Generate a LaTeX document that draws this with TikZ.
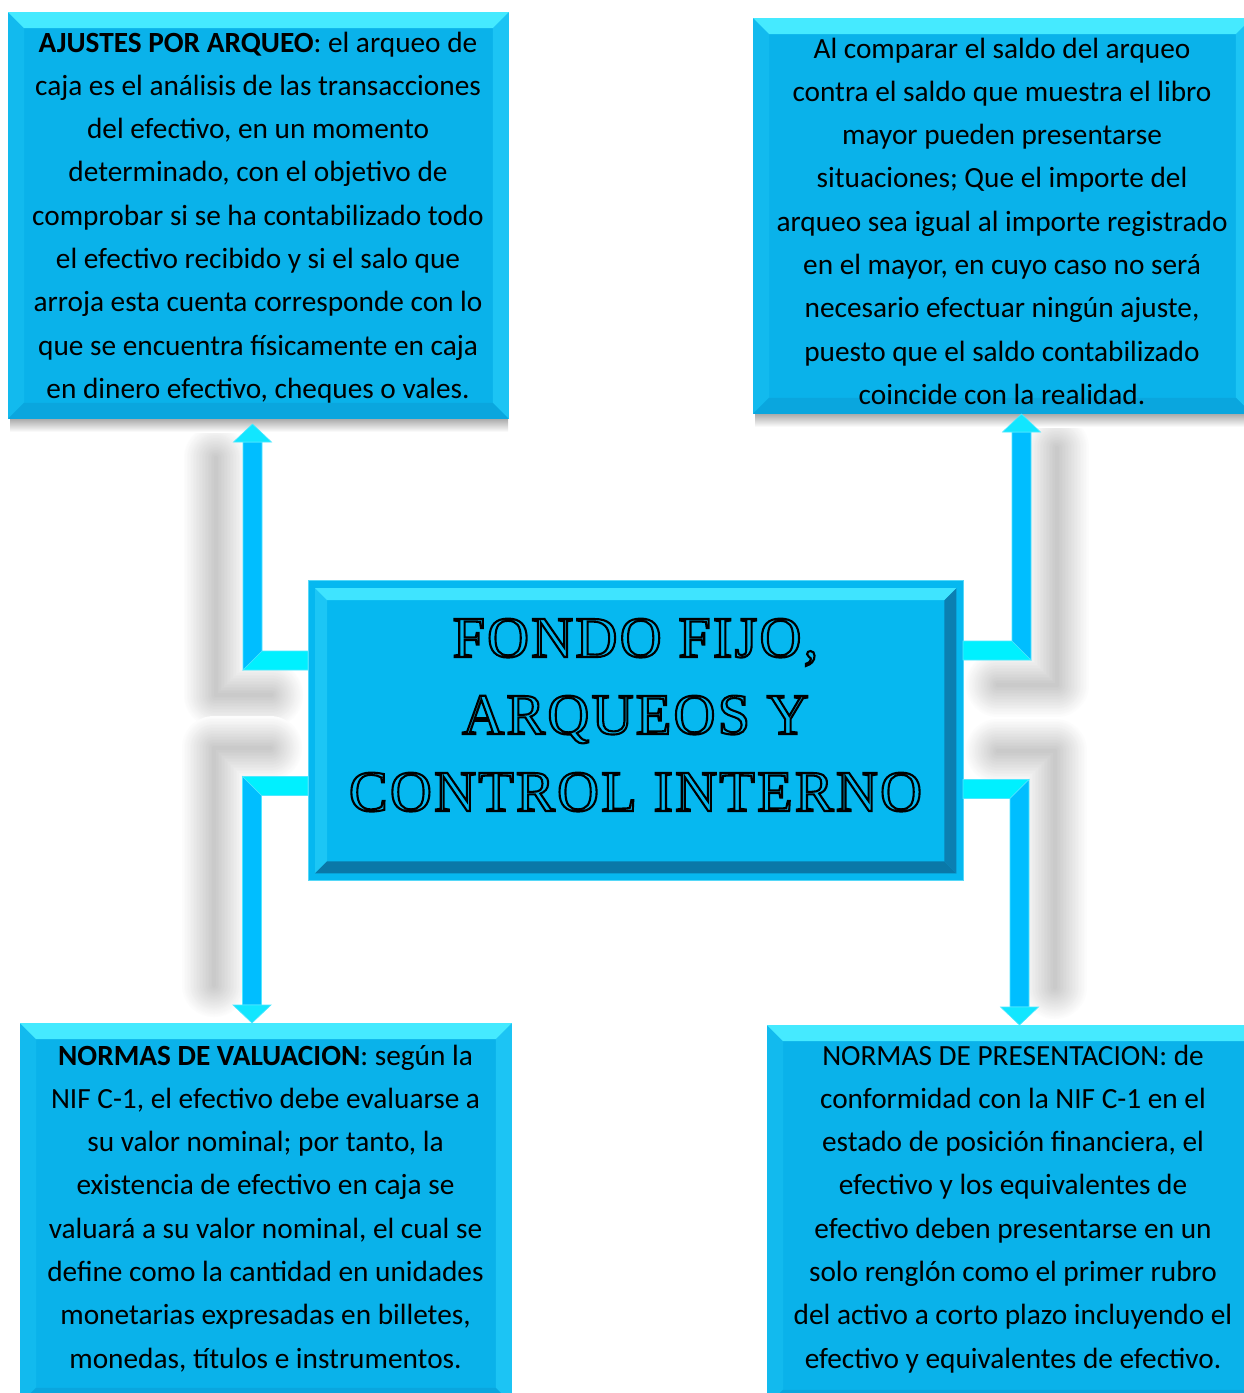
\documentclass[tikz,border=0pt]{standalone}
\usepackage{fontspec}
\setmainfont{Carlito}
\newfontfamily\titlefont[LetterSpace=4]{Liberation Serif}
\usetikzlibrary{calc}
\definecolor{face}{HTML}{0AB2EA}
\definecolor{bvtop}{HTML}{45EAFF}
\definecolor{bvleft}{HTML}{12BAEE}
\definecolor{bvright}{HTML}{1CC4F4}
\definecolor{bvbot}{HTML}{0AA6DE}
\definecolor{edgec}{HTML}{55D8F8}
\definecolor{cface}{HTML}{06B8F0}
\definecolor{cbvtop}{HTML}{3FE4FF}
\definecolor{cbvleft}{HTML}{1CC6F5}
\definecolor{cbvright}{HTML}{0B7FB2}
\definecolor{cbvbot}{HTML}{0A78A8}
\definecolor{vband}{HTML}{00BEFF}
\definecolor{hband}{HTML}{00F0FF}
\definecolor{ahead}{HTML}{12E6FF}
\definecolor{aedge}{HTML}{4FE8FF}
\newcommand{\boxlines}[1]{\begin{tabular}[t]{@{}c@{}}#1\end{tabular}}
\newcommand{\hollow}[1]{\special{pdf:literal direct 1 Tr 2.1 w}#1\special{pdf:literal direct 0 Tr}}
\newcommand{\bevel}[6]{%
  \fill[#4] (#1.north west) -- (#1.south west) -- ([shift={(#2,#2)}]#1.south west) -- ([shift={(#2,-#2)}]#1.north west) -- cycle;
  \fill[#5] (#1.north east) -- (#1.south east) -- ([shift={(-#2,#2)}]#1.south east) -- ([shift={(-#2,-#2)}]#1.north east) -- cycle;
  \fill[#6] (#1.south west) -- (#1.south east) -- ([shift={(-#2,#2)}]#1.south east) -- ([shift={(#2,#2)}]#1.south west) -- cycle;
  \fill[#3] (#1.north west) -- (#1.north east) -- ([shift={(-#2,-#2)}]#1.north east) -- ([shift={(#2,-#2)}]#1.north west) -- cycle;
}
% soft shadow of an elbow connector: #1 start, #2 tip, #3 dx, #4 dy
\newcommand{\elbowshadow}[4]{%
  \foreach \lw [evaluate=\lw as \shd using {22*(1-\lw/67)}] in {64,61,...,4}{%
    \draw[black!\shd, line width=\lw pt, line cap=round, line join=round]
      let \p1=(#1), \p2=(#2) in
      ({\x1+(#3)},{\y1+(#4)}) -- ({\x2+(#3)},{\y1+(#4)}) -- ({\x2+(#3)},{\y2+(#4)});
  }%
}
% #1 start, #2 tip, #3 sx, #4 vy
\newcommand{\elbowbody}[4]{%
  \filldraw[fill=hband, draw=aedge, line width=0.6pt] let \p1=(#1), \p2=(#2) in
   (\x1,{\y1-(#4)*9.5pt}) -- ({\x2+(#3)*9.5pt},{\y1-(#4)*9.5pt})
   -- ({\x2-(#3)*9.5pt},{\y1+(#4)*9.5pt}) -- (\x1,{\y1+(#4)*9.5pt}) -- cycle;
  \filldraw[fill=vband, draw=aedge, line width=0.6pt] let \p1=(#1), \p2=(#2) in
   ({\x2+(#3)*9.5pt},{\y1-(#4)*9.5pt}) -- ({\x2-(#3)*9.5pt},{\y1+(#4)*9.5pt})
   -- ({\x2-(#3)*9.5pt},{\y2-(#4)*18pt}) -- ({\x2+(#3)*9.5pt},{\y2-(#4)*18pt}) -- cycle;
  \filldraw[fill=ahead, draw=aedge, line width=0.6pt] let \p1=(#1), \p2=(#2) in
   ({\x2-19pt},{\y2-(#4)*18pt}) -- ({\x2+19pt},{\y2-(#4)*18pt}) -- (\x2,\y2) -- cycle;
}
\tikzset{
  box/.style={rectangle, draw=edgec, line width=0.8pt, fill=face, inner sep=0pt},
  txt/.style={inner sep=0pt, anchor=base, font=\fontsize{29.3}{43.3}\selectfont},
  ttl/.style={inner sep=0pt, anchor=base, font=\titlefont\fontsize{58}{77}\selectfont}
}
\begin{document}
\begin{tikzpicture}[x=1pt,y=-1pt]
\useasboundingbox (0,0) rectangle (1244,1393);
\fill[white] (0,0) rectangle (1244,1393);

% connector coordinates
\coordinate (s1) at (308,660.5);
\coordinate (t1) at (252.5,424);
\coordinate (s2) at (963,650.5);
\coordinate (t2) at (1021.5,414);
\coordinate (s3) at (308,786);
\coordinate (t3) at (252,1023);
\coordinate (s4) at (963,789);
\coordinate (t4) at (1019.5,1025);

% arrow shadows
\elbowshadow{s1}{t1}{-37pt}{-34pt}
\elbowshadow{s2}{t2}{35pt}{-34pt}
\elbowshadow{s3}{t3}{-38pt}{38pt}
\elbowshadow{s4}{t4}{35pt}{38pt}

% box shadows under the upper boxes
\shade[top color=black!35, bottom color=white] (10,418) rectangle (508,432);
\shade[top color=black!35, bottom color=white] (755,413) rectangle (1244,427);

% boxes
\node[box, minimum width=500pt, minimum height=406pt, anchor=north west] (tl) at (8,12) {};
\node[box, minimum width=498pt, minimum height=395pt, anchor=north west] (tr) at (753,18) {};
\node[box, minimum width=491pt, minimum height=380pt, anchor=north west] (bl) at (20,1023) {};
\node[box, minimum width=493pt, minimum height=380pt, anchor=north west] (br) at (767,1025) {};
\bevel{tl}{16pt}{bvtop}{bvleft}{bvright}{bvbot}
\bevel{tr}{16pt}{bvtop}{bvleft}{bvright}{bvbot}
\bevel{bl}{16pt}{bvtop}{bvleft}{bvright}{bvbot}
\bevel{br}{16pt}{bvtop}{bvleft}{bvright}{bvbot}

% centre box
\node[box, fill=cface, minimum width=655pt, minimum height=300pt, anchor=north west] (c) at (308,580) {};
\node[rectangle, inner sep=0pt, fill=cface, minimum width=641pt, minimum height=285pt, anchor=north west] (ci) at (315,588) {};
\bevel{ci}{12pt}{cbvtop}{cbvleft}{cbvright}{cbvbot}

% connectors
\elbowbody{s1}{t1}{-1}{1}
\elbowbody{s2}{t2}{1}{1}
\elbowbody{s3}{t3}{-1}{-1}
\elbowbody{s4}{t4}{1}{-1}

% texts
\node[txt] (tlt) at (258,52) {\boxlines{\textbf{AJUSTES POR ARQUEO}: el arqueo de\\
caja es el análisis de las transacciones\\
del efectivo, en un momento\\
determinado, con el objetivo de\\
comprobar si se ha contabilizado todo\\
el efectivo recibido y si el salo que\\
arroja esta cuenta corresponde con lo\\
que se encuentra físicamente en caja\\
en dinero efectivo, cheques o vales.}};

\begin{scope}
\clip (753,18) rectangle (1251,404);
\node[txt] (trt) at (1002,58) {\boxlines{Al comparar el saldo del arqueo\\
contra el saldo que muestra el libro\\
mayor pueden presentarse\\
situaciones; Que el importe del\\
arqueo sea igual al importe registrado\\
en el mayor, en cuyo caso no será\\
necesario efectuar ningún ajuste,\\
puesto que el saldo contabilizado\\
coincide con la realidad.}};
\end{scope}

\node[txt] (blt) at (265.5,1065) {\boxlines{\textbf{NORMAS DE VALUACION}: según la\\
NIF C-1, el efectivo debe evaluarse a\\
su valor nominal; por tanto, la\\
existencia de efectivo en caja se\\
valuará a su valor nominal, el cual se\\
define como la cantidad en unidades\\
monetarias expresadas en billetes,\\
monedas, títulos e instrumentos.}};

\node[txt] (brt) at (1013,1065) {\boxlines{NORMAS DE PRESENTACION: de\\
conformidad con la NIF C-1 en el\\
estado de posición financiera, el\\
efectivo y los equivalentes de\\
efectivo deben presentarse en un\\
solo renglón como el primer rubro\\
del activo a corto plazo incluyendo el\\
efectivo y equivalentes de efectivo.}};

\node[ttl] (title) at (635.5,657) {\boxlines{\hollow{FONDO FIJO,}\\
\hollow{ARQUEOS Y}\\
\hollow{CONTROL INTERNO}}};
\end{tikzpicture}
\end{document}
